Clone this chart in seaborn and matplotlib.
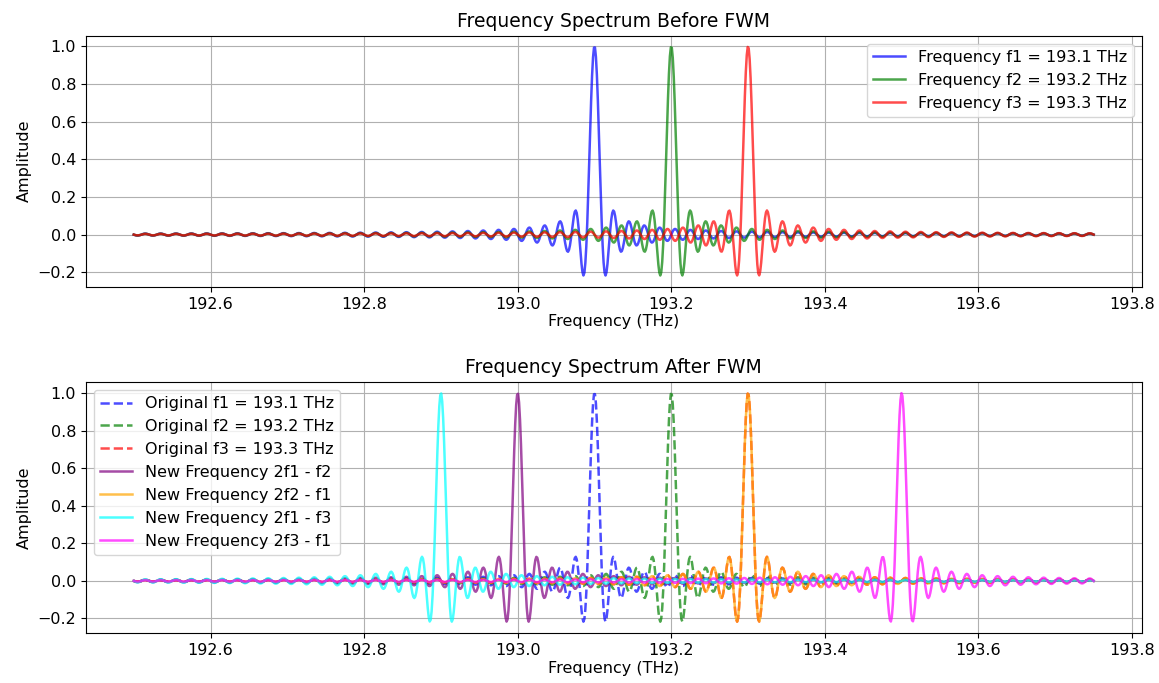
import numpy as np
import matplotlib
matplotlib.use("Agg")
import matplotlib.pyplot as plt
import seaborn as sns

# Frequency grid (THz)
f_start = 192.5
f_stop = 193.75
n_points = 1000
lobe_width = 0.01  # sinc spectrum: zeros every 0.01 THz

# Original carriers
orig_freqs = [193.1, 193.2, 193.3]
orig_colors = ['blue', 'green', 'red']
before_labels = ['Frequency f1 = 193.1 THz',
                 'Frequency f2 = 193.2 THz',
                 'Frequency f3 = 193.3 THz']
after_labels = ['Original f1 = 193.1 THz',
                'Original f2 = 193.2 THz',
                'Original f3 = 193.3 THz']

# FWM products
new_freqs = [193.0, 193.3, 192.9, 193.5]
new_colors = ['purple', 'orange', 'cyan', 'magenta']
new_labels = ['New Frequency 2f1 - f2',
              'New Frequency 2f2 - f1',
              'New Frequency 2f1 - f3',
              'New Frequency 2f3 - f1']

freq = np.linspace(f_start, f_stop, n_points)


def spectrum(f0):
    return np.sinc((freq - f0) / lobe_width)


plt.rcParams['font.size'] = 11.5
fig, axes = plt.subplots(2, 1, figsize=(11.59, 6.83), dpi=100)

# Before FWM
ax = axes[0]
for f0, c, lab in zip(orig_freqs, orig_colors, before_labels):
    sns.lineplot(x=freq, y=spectrum(f0), color=c, alpha=0.7,
                 linewidth=1.8, label=lab, ax=ax)
ax.set_title("Frequency Spectrum Before FWM", fontsize=13.5)
ax.set_xlabel("Frequency (THz)", labelpad=2)
ax.set_ylabel("Amplitude")
ax.grid(True)
ax.legend(loc='upper right')

# After FWM
ax = axes[1]
for f0, c, lab in zip(orig_freqs, orig_colors, after_labels):
    sns.lineplot(x=freq, y=spectrum(f0), color=c, alpha=0.7,
                 linewidth=1.8, linestyle='--', label=lab, ax=ax)
for f0, c, lab in zip(new_freqs, new_colors, new_labels):
    sns.lineplot(x=freq, y=spectrum(f0), color=c, alpha=0.7,
                 linewidth=1.8, label=lab, ax=ax)
ax.set_title("Frequency Spectrum After FWM", fontsize=13.5)
ax.set_xlabel("Frequency (THz)", labelpad=2)
ax.set_ylabel("Amplitude")
ax.grid(True)
ax.legend(loc='upper left')

fig.subplots_adjust(left=0.074, right=0.985, top=0.948, bottom=0.073,
                    hspace=0.377)
fig.savefig("out.png")
